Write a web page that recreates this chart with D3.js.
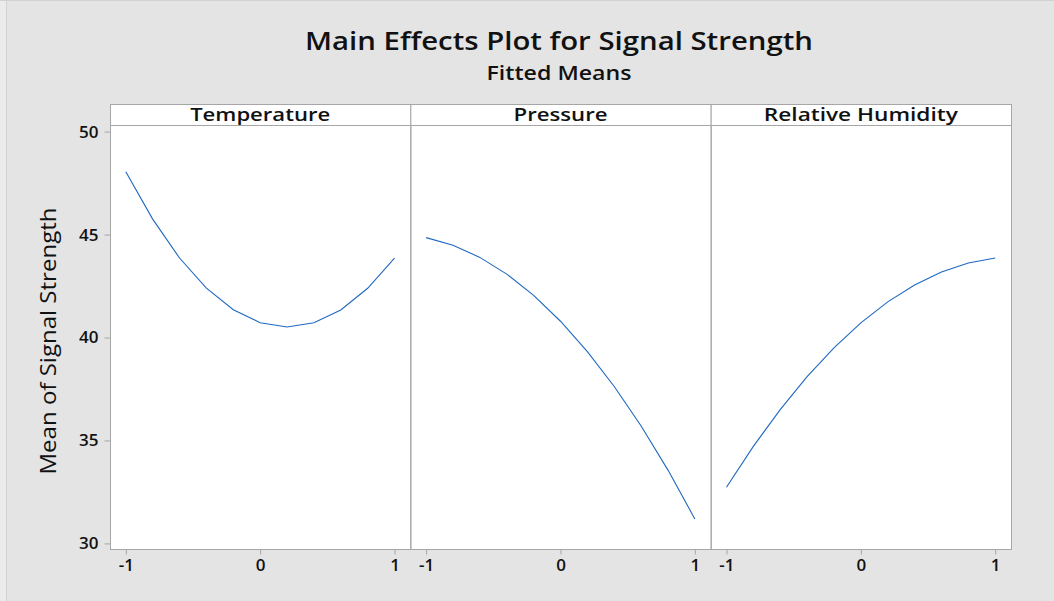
<!DOCTYPE html>
<html>
<head>
<meta charset="utf-8">
<script src="https://cdn.jsdelivr.net/npm/d3@7"></script>
<style>
  html, body { margin: 0; padding: 0; background: #e4e4e4; }
  svg { display: block; }
  text { font-family: "Open Sans", "Segoe UI", sans-serif; fill: #111; }
</style>
</head>
<body>
<svg id="chart" width="1054" height="601"></svg>
<script>
// Factor levels (coded units) at which the fitted means are evaluated
const levels = [-1, -0.8, -0.6, -0.4, -0.2, 0, 0.2, 0.4, 0.6, 0.8, 1];

// Fitted means of Signal Strength for each factor
const temperatureMeans = [48.05, 45.75, 43.86, 42.40, 41.35, 40.72, 40.51, 40.72, 41.34, 42.39, 43.85];
const pressureMeans    = [44.85, 44.48, 43.89, 43.08, 42.05, 40.79, 39.31, 37.62, 35.70, 33.56, 31.19];
const humidityMeans    = [32.73, 34.71, 36.50, 38.10, 39.50, 40.71, 41.73, 42.55, 43.18, 43.62, 43.86];

const factorNames = ["Temperature", "Pressure", "Relative Humidity"];
const xTickValues = [-1, 0, 1];
const yTickValues = [30, 35, 40, 45, 50];

const seriesList = [temperatureMeans, pressureMeans, humidityMeans];

const svg = d3.select("#chart");
const W = 1054, H = 601;

// Figure background and frame
svg.append("rect").attr("x", 0).attr("y", 0).attr("width", W).attr("height", H).attr("fill", "#ebebeb");
svg.append("rect").attr("x", 6).attr("y", 0).attr("width", W - 6).attr("height", H).attr("fill", "#e4e4e4");
svg.append("line").attr("x1", 6.5).attr("x2", 6.5).attr("y1", 0).attr("y2", H).attr("stroke", "#d2d2d2");
svg.append("line").attr("x1", 0).attr("x2", W).attr("y1", 0.5).attr("y2", 0.5).attr("stroke", "#d2d2d2");

// Panel geometry
const panelLeft = 110, panelRight = 1011;
const stripTop = 104, plotTop = 125, plotBottom = 549;
const panelW = (panelRight - panelLeft) / factorNames.length;
const pad = 15.8;

const y = d3.scaleLinear().domain([30, 50]).range([543.4, 131.6]);
const lineColor = "#1f68c1";
const frameColor = "#a6a6a6";

// Titles
svg.append("text").attr("x", 559).attr("y", 49.5)
  .attr("text-anchor", "middle").attr("font-size", 25).attr("font-weight", 600)
  .attr("textLength", 508).attr("lengthAdjust", "spacingAndGlyphs")
  .text("Main Effects Plot for Signal Strength");
svg.append("text").attr("x", 559).attr("y", 79.5)
  .attr("text-anchor", "middle").attr("font-size", 19).attr("font-weight", 600)
  .attr("textLength", 145).attr("lengthAdjust", "spacingAndGlyphs")
  .text("Fitted Means");

// Y-axis title
svg.append("text")
  .attr("transform", "translate(56,341) rotate(-90)")
  .attr("text-anchor", "middle").attr("font-size", 21).attr("font-weight", 400)
  .attr("textLength", 267).attr("lengthAdjust", "spacingAndGlyphs")
  .text("Mean of Signal Strength");

// Plot background
svg.append("rect").attr("x", panelLeft).attr("y", stripTop)
  .attr("width", panelRight - panelLeft).attr("height", plotBottom - stripTop)
  .attr("fill", "#ffffff");

const line = d3.line();

const headerWidths = [140, 94, 194];

factorNames.forEach((name, i) => {
  const x0 = panelLeft + i * panelW;
  const x1 = x0 + panelW;
  const x = d3.scaleLinear().domain([-1, 1]).range([x0 + pad, x1 - pad]);
  const g = svg.append("g");

  // Strip header
  g.append("rect").attr("x", x0 + 0.5).attr("y", stripTop + 0.5)
    .attr("width", panelW).attr("height", plotTop - stripTop)
    .attr("fill", "#ffffff").attr("stroke", frameColor);
  g.append("text").attr("x", (x0 + x1) / 2).attr("y", 120.5)
    .attr("text-anchor", "middle").attr("font-size", 18).attr("font-weight", 600)
    .attr("textLength", headerWidths[i]).attr("lengthAdjust", "spacingAndGlyphs")
    .text(name);

  // Panel frame
  g.append("rect").attr("x", x0 + 0.5).attr("y", plotTop + 0.5)
    .attr("width", panelW).attr("height", plotBottom - plotTop)
    .attr("fill", "none").attr("stroke", frameColor);

  // Fitted-means curve
  g.append("path")
    .attr("d", line(levels.map((lv, k) => [x(lv), y(seriesList[i][k])])))
    .attr("fill", "none").attr("stroke", lineColor).attr("stroke-width", 1.1);

  // X axis
  const xAxis = d3.axisBottom(x).tickValues(xTickValues).tickFormat(d3.format("d"))
    .tickSize(5).tickPadding(4);
  const ax = g.append("g").attr("transform", `translate(0,${plotBottom + 0.5})`).call(xAxis);
  ax.select(".domain").remove();
  ax.selectAll(".tick line").attr("stroke", frameColor);
  ax.selectAll(".tick text").attr("font-size", 17).attr("font-weight", 600)
    .attr("font-family", "Open Sans").attr("fill", "#111")
    .text(d => d < 0 ? "-" + Math.abs(d) : d);
});

// Y axis
const yAxis = d3.axisLeft(y).tickValues(yTickValues).tickSize(6).tickPadding(6);
const ay = svg.append("g").attr("transform", `translate(${panelLeft + 0.5},0)`).call(yAxis);
ay.select(".domain").remove();
ay.selectAll(".tick line").attr("stroke", frameColor);
ay.selectAll(".tick text").attr("font-size", 17).attr("font-weight", 600)
  .attr("font-family", "Open Sans").attr("fill", "#111");
</script>
</body>
</html>
